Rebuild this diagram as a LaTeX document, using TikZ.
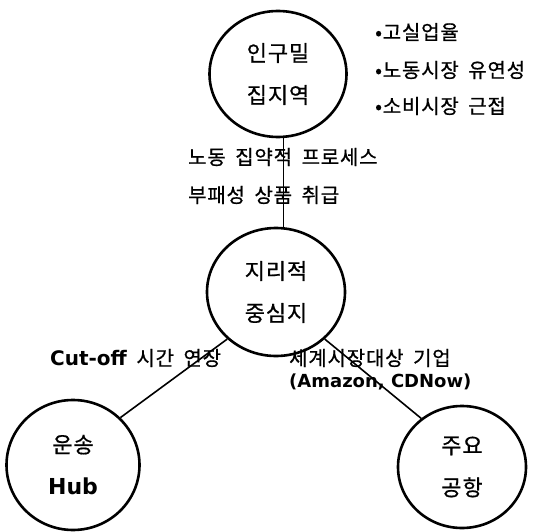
\documentclass[tikz,border=0pt]{standalone}
\usepackage{fontspec}
\usetikzlibrary{shapes.geometric}
\setmainfont{Noto Sans CJK KR}[WordSpace=1.8, LetterSpace=4, FakeBold=0.7]
\newfontfamily\latbold{DejaVu Sans}[WordSpace=1]
\newcommand{\bl}[1]{{\latbold\bfseries #1}}
\tikzset{
  place/.style={draw, ellipse, line width=2.6pt, align=center, inner sep=0pt,
    font=\fontsize{22}{42}\selectfont},
  link/.style={line width=1.6pt},
  note/.style={anchor=west, inner sep=0pt, font=\fontsize{20}{22}\selectfont},
  latnote/.style={anchor=west, inner sep=0pt, font=\fontsize{18}{22}\selectfont}
}
\begin{document}
\begin{tikzpicture}[x=1pt,y=-1pt]
  \useasboundingbox[fill=white] (0,0) rectangle (538,532);

  % places
  \node[place, minimum width=137pt, minimum height=126pt] (top) at (278,74) {인구밀\\집지역};
  \node[place, minimum width=138pt, minimum height=128pt] (mid) at (276,292) {지리적\\중심지};
  \node[place, minimum width=133pt, minimum height=130pt] (hub) at (73,465) {운송\\\bl{Hub}};
  \node[place, minimum width=128pt, minimum height=122pt] (air) at (462,467) {주요\\공항};

  % connections
  \draw[link] (top.-85) -- (top.-85 |- mid.north);
  \draw[link] (mid.224) -- (hub.45);
  \draw[link] (mid.316) -- (air.130);

  % side notes
  \node[note] (n1) at (375,32) {•고실업율};
  \node[note] (n2) at (375,70) {•노동시장 유연성};
  \node[note] (n3) at (375,106) {•소비시장 근접};

  \node[note] (l1) at (188,157) {노동 집약적 프로세스};
  \node[note] (l2) at (188,195) {부패성 상품 취급};

  \node[note] (l3) at (50,358) {\bl{Cut-off} 시간 연장};
  \node[note] (l4) at (289,358) {세계시장대상 기업};
  \node[latnote] (l5) at (289,382) {\bl{(Amazon, CDNow)}};
\end{tikzpicture}
\end{document}
